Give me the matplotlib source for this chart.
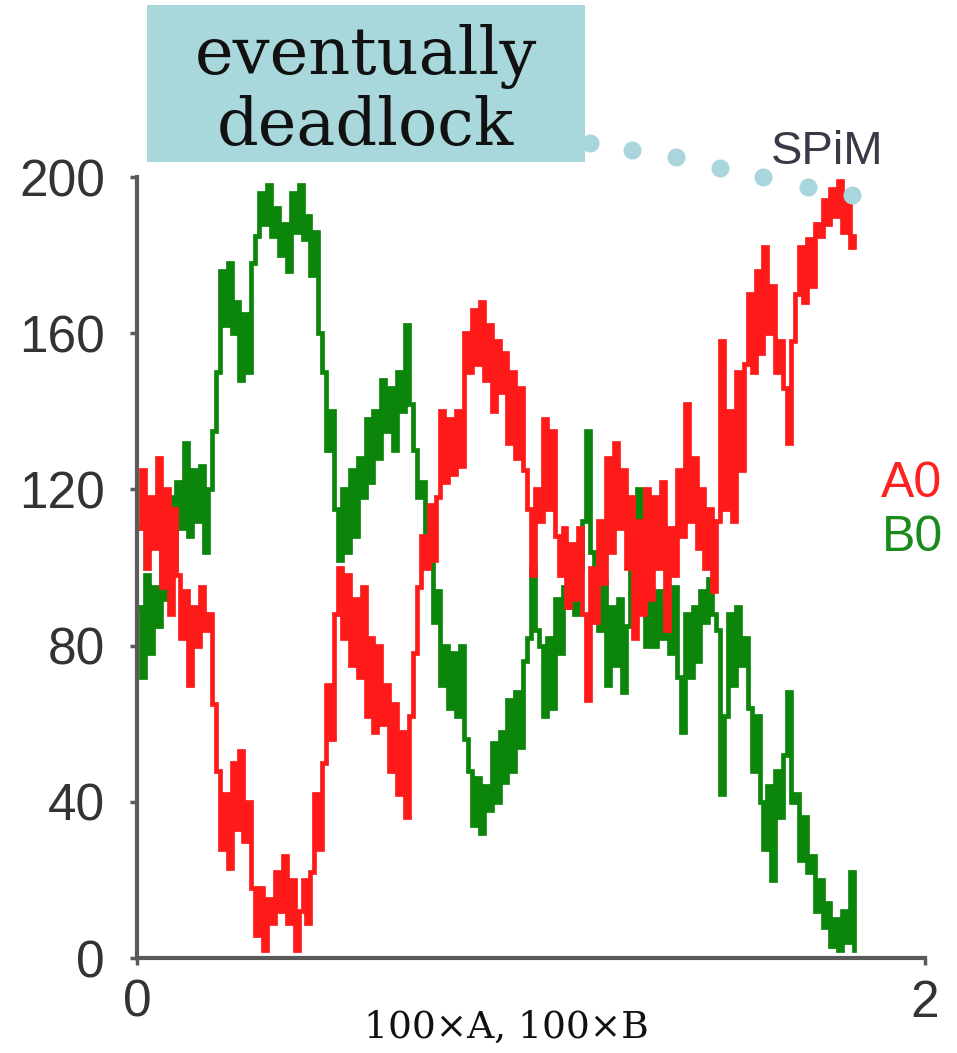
import numpy as np
from matplotlib import pyplot as plt
from matplotlib.patches import Rectangle

# sampling times of the SPiM run (0 .. 1.82, every 0.01)
t = np.round(np.arange(0, 1.825, 0.01), 2)

# A0 molecule count
a0 = [110, 125, 100, 118, 105, 128, 95, 120, 88, 115,
      98, 82, 94, 70, 90, 80, 95, 84, 88, 65,
      48, 28, 42, 23, 50, 33, 53, 30, 40, 18,
      6, 18, 2, 15, 9, 22, 12, 26, 9, 20,
      2, 12, 20, 9, 22, 42, 28, 50, 70, 56,
      88, 100, 82, 98, 75, 92, 72, 95, 62, 82,
      58, 80, 60, 70, 48, 65, 42, 58, 36, 62,
      78, 95, 108, 100, 116, 102, 118, 140, 122, 138,
      124, 140, 126, 160, 150, 166, 152, 168, 148, 162,
      140, 158, 145, 155, 132, 150, 128, 146, 125, 115,
      98, 120, 112, 138, 115, 135, 108, 98, 110, 90,
      106, 92, 110, 88, 66, 100, 86, 112, 96, 128,
      104, 132, 110, 125, 100, 118, 82, 112, 88, 120,
      92, 118, 100, 122, 84, 110, 98, 125, 108, 142,
      112, 128, 105, 120, 100, 115, 94, 112, 158, 115,
      140, 112, 150, 125, 152, 170, 150, 176, 155, 182,
      160, 172, 150, 158, 146, 132, 158, 170, 182, 168,
      184, 172, 188, 185, 194, 188, 197, 190, 199, 186,
      195, 182, 185]

# B0 molecule count
b0 = [90, 72, 98, 78, 95, 85, 108, 92, 118, 100,
      122, 110, 132, 108, 125, 112, 126, 104, 120, 135,
      150, 176, 162, 178, 160, 168, 148, 165, 150, 178,
      185, 196, 188, 198, 185, 192, 180, 188, 176, 196,
      186, 198, 184, 190, 175, 186, 160, 150, 130, 140,
      115, 102, 120, 104, 125, 108, 128, 118, 138, 122,
      140, 128, 148, 135, 146, 130, 150, 140, 162, 142,
      130, 118, 122, 104, 110, 86, 94, 70, 80, 64,
      78, 62, 80, 56, 48, 34, 46, 32, 44, 38,
      55, 40, 58, 45, 66, 48, 68, 54, 76, 82,
      100, 84, 80, 62, 82, 64, 92, 78, 95, 90,
      95, 88, 100, 112, 135, 104, 92, 84, 96, 70,
      90, 75, 92, 68, 85, 110, 94, 120, 100, 80,
      92, 80, 94, 82, 90, 78, 95, 72, 58, 88,
      72, 90, 76, 94, 86, 97, 88, 84, 42, 62,
      88, 70, 90, 75, 82, 64, 48, 62, 40, 28,
      44, 20, 48, 36, 52, 68, 40, 42, 25, 36,
      22, 26, 12, 20, 8, 14, 3, 10, 2, 12,
      4, 22, 2]

yticks = [0, 40, 80, 120, 160, 200]
xticks = [0, 2]

fig = plt.figure(figsize=(9.57, 10.53), dpi=100)
ax = fig.add_axes([0.1432, 0.0902, 0.8234, 0.7417])

ax.plot(t, b0, drawstyle='steps-post', color='#0b860b', lw=3.4, solid_joinstyle='miter')
ax.plot(t, a0, drawstyle='steps-post', color='#ff1a1a', lw=3.4, solid_joinstyle='miter')

ax.set_xlim(0, 2)
ax.set_ylim(0, 200)
ax.set_xticks(xticks)
ax.set_yticks(yticks)
for s in ['top', 'right']:
    ax.spines[s].set_visible(False)
for s in ['left', 'bottom']:
    ax.spines[s].set_color('#5a5a5a')
    ax.spines[s].set_linewidth(3)
ax.tick_params(axis='y', length=5, width=2.5, color='#5a5a5a', pad=18,
               labelsize=37, labelcolor='#333333')
ax.tick_params(axis='x', length=5, width=2.5, color='#5a5a5a', pad=10,
               labelsize=37, labelcolor='#333333')
for lab in ax.get_xticklabels() + ax.get_yticklabels():
    lab.set_family('Liberation Sans')

# axis caption under the plot
fig.text(0.529, 0.024, '100×A, 100×B', family='DejaVu Serif', fontsize=27,
         ha='center', va='center', color='#111111')

# the boxed note and its dotted pointer to the end of the run
fig.patches.append(Rectangle((0.1536, 0.846), 0.4577, 0.1494, transform=fig.transFigure,
                             facecolor='#a9d8dc', edgecolor='none', zorder=0))
fig.text(0.382, 0.9135, 'eventually\ndeadlock', family='DejaVu Serif', fontsize=47,
         ha='center', va='center', linespacing=1.12, color='#111111')
dots_x = np.array([590, 632, 676, 720, 763, 808, 852]) / 957
dots_y = 1 - np.array([143, 150, 157, 168, 177, 187, 195]) / 1053
fig.add_artist(plt.Line2D(dots_x, dots_y, transform=fig.transFigure, ls='none',
                          marker='o', ms=13, mfc='#a9d6dc', mec='none', zorder=5))

fig.text(0.864, 0.856, 'SPiM', family='Liberation Sans', fontsize=34,
         ha='center', va='center', color='#3b3848')
fig.text(0.921, 0.540, 'A0', family='Liberation Sans', fontsize=36,
         ha='left', va='center', color='#ff2020')
fig.text(0.921, 0.489, 'B0', family='Liberation Sans', fontsize=36,
         ha='left', va='center', color='#1a8a1a')

plt.savefig('out.png', dpi=100)
